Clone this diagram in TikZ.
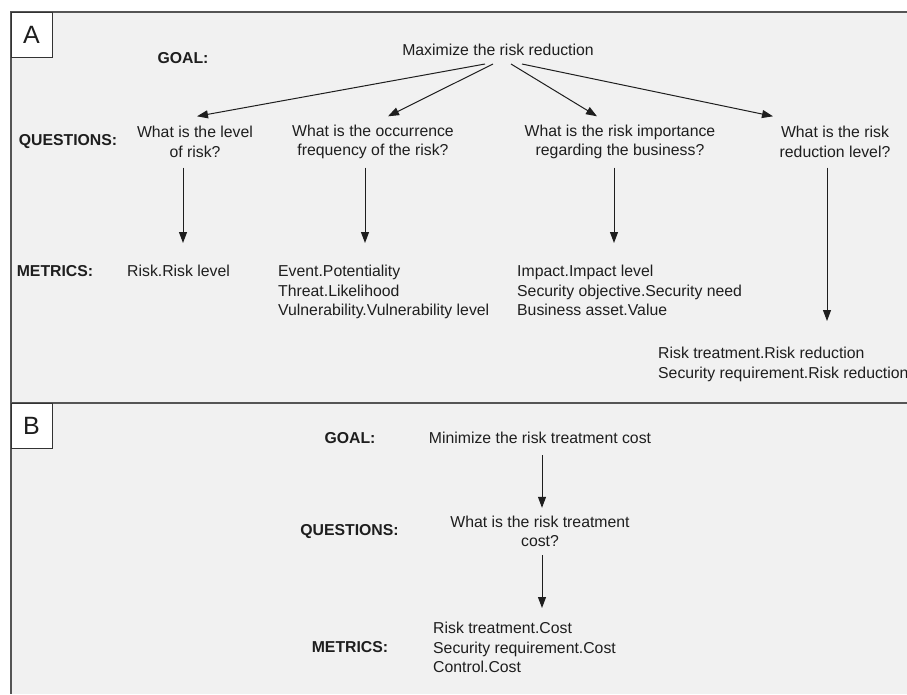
\documentclass[tikz,border=0pt]{standalone}
\usepackage{fontspec}
\setmainfont{Liberation Sans}
\usetikzlibrary{arrows.meta,positioning}
\definecolor{panelgray}{HTML}{F1F1F1}
\definecolor{framegray}{HTML}{555555}
\definecolor{inkgray}{HTML}{1E1E1E}
\tikzset{
  tag/.style={draw=black!80, fill=white, line width=1pt, minimum width=41pt,
    minimum height=45pt, inner sep=0pt, font=\fontsize{25}{30}\selectfont},
  head/.style={font=\fontsize{15.8}{19.5}\selectfont\bfseries, inner sep=0pt},
  goal/.style={inner xsep=0pt, inner ysep=8pt},
  quest/.style={align=center, inner sep=0pt, minimum height=51pt},
  metric/.style={align=left, anchor=north west, inner sep=0pt},
  arr/.style={-{Triangle[length=11pt,width=8pt]}, line width=1pt, draw=inkgray}}

\begin{document}
\begin{tikzpicture}[x=1pt, y=-1pt, font=\fontsize{15.8}{19.5}\selectfont, text=inkgray]
  \useasboundingbox (0,0) rectangle (907,694);
  \fill[white] (0,0) rectangle (907,694);
  \fill[panelgray] (11,12) rectangle (907,694);
  \draw[framegray, line width=2pt] (907,12) -- (11,12) -- (11,694);
  \draw[framegray, line width=2pt] (11,403) -- (907,403);

  \node[tag] (tag_a) at (31.5,34.5) {A};
  \node[tag] (tag_b) at (31.5,426)  {B};

  % panel A
  \node[head] (head_goal_a) at (183,58)  {GOAL:};
  \node[head] (head_q_a)    at (68,142)  {QUESTIONS:};
  \node[head] (head_m_a)    at (55,271)  {METRICS:};

  \node[goal]  (goal_a) at (498,50)  {Maximize the risk reduction};
  \node[quest] (q_1)    at (195,142) {What is the level\\of risk?};
  \node[quest] (q_2)    at (373,142) {What is the occurrence\\frequency of the risk?};
  \node[quest] (q_3)    at (620,142) {What is the risk importance\\regarding the business?};
  \node[quest] (q_4)    at (835,142) {What is the risk\\reduction level?};

  \node[metric] (m_1) at (127,265) {Risk.Risk level};
  \node[metric] (m_2) at (278,265) {Event.Potentiality\\Threat.Likelihood\\Vulnerability.Vulnerability level};
  \node[metric] (m_3) at (517,265) {Impact.Impact level\\Security objective.Security need\\Business asset.Value};
  \node[metric] (m_4) at (658,347) {Risk treatment.Risk reduction\\Security requirement.Risk reduction};

  \draw[arr] ([xshift=-13pt]goal_a.south) -- ([xshift=2pt]q_1.north);
  \draw[arr] ([xshift=-5pt]goal_a.south)  -- ([xshift=15pt]q_2.north);
  \draw[arr] ([xshift=13pt]goal_a.south)  -- ([xshift=-23pt]q_3.north);
  \draw[arr] ([xshift=24pt]goal_a.south)  -- ([xshift=-62pt]q_4.north);

  \draw[arr, shorten >=22pt] ([xshift=-12pt]q_1.south) -- ([xshift=-12pt]q_1.south |- m_1.north);
  \draw[arr, shorten >=22pt] ([xshift=-8pt]q_2.south)  -- ([xshift=-8pt]q_2.south |- m_2.north);
  \draw[arr, shorten >=22pt] ([xshift=-6pt]q_3.south)  -- ([xshift=-6pt]q_3.south |- m_3.north);
  \draw[arr, shorten >=26pt] ([xshift=-8pt]q_4.south)  -- ([xshift=-8pt]q_4.south |- m_4.north);

  % panel B
  \node[head] (head_goal_b) at (350,438)   {GOAL:};
  \node[head] (head_q_b)    at (349.5,532) {QUESTIONS:};
  \node[head] (head_m_b)    at (350,647)   {METRICS:};

  \node[goal]  (goal_b) at (540,438) {Minimize the risk treatment cost};
  \node[quest, minimum height=47pt] (q_b) at (540,531.5) {What is the risk treatment\\cost?};
  \node[metric] (m_b) at (433,622) {Risk treatment.Cost\\Security requirement.Cost\\Control.Cost};

  \draw[arr, shorten <=3pt] ([xshift=2pt]goal_b.south) -- ([xshift=2pt]q_b.north);
  \draw[arr, shorten >=14pt] ([xshift=2pt]q_b.south) -- ([xshift=2pt]q_b.south |- m_b.north);
\end{tikzpicture}
\end{document}
